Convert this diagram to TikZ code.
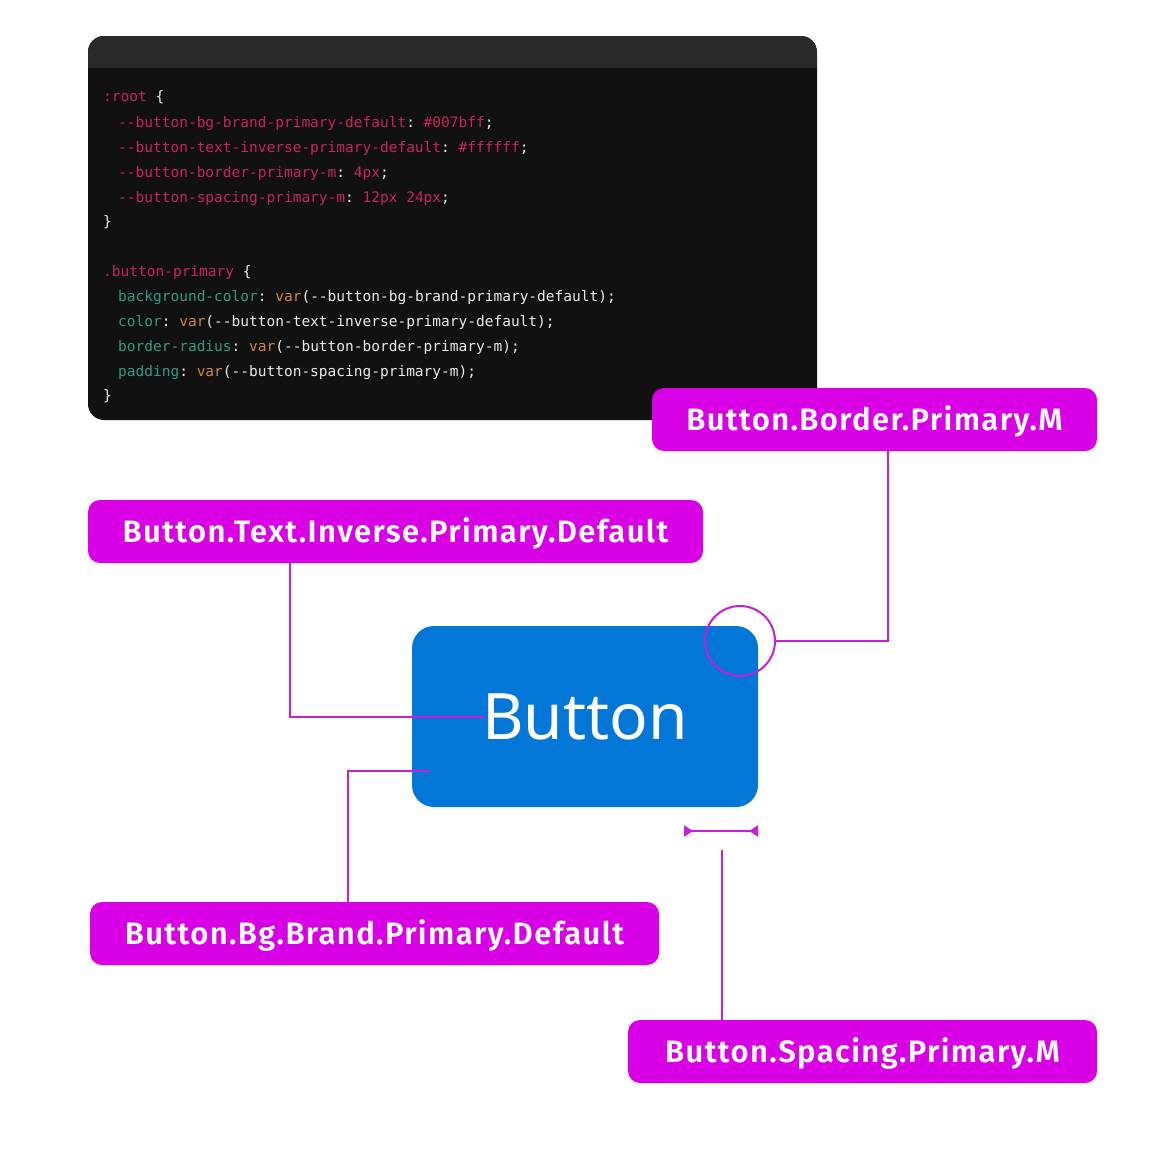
\documentclass[tikz,border=0pt]{standalone}
\usepackage{fontspec}
\setmonofont{DejaVu Sans Mono}
\newfontfamily\labfont{Fira Sans SemiBold}[LetterSpace=4.5]
\newfontfamily\btnfont{Noto Sans}
\usetikzlibrary{arrows.meta}
\definecolor{codebg}{HTML}{111111}
\definecolor{codehd}{HTML}{2A2A2A}
\definecolor{cpink}{HTML}{C9245F}
\definecolor{cgreen}{HTML}{2F9E80}
\definecolor{corange}{HTML}{D4883A}
\definecolor{cwhite}{HTML}{EAEAEA}
\definecolor{magfill}{HTML}{DA00E6}
\definecolor{magline}{HTML}{C81ED8}
\definecolor{btnblue}{HTML}{0277D7}
\newcommand{\pk}[1]{\textcolor{cpink}{#1}}
\newcommand{\gr}[1]{\textcolor{cgreen}{#1}}
\newcommand{\og}[1]{\textcolor{corange}{#1}}
\newcommand{\wh}[1]{\textcolor{cwhite}{#1}}
\tikzset{
  codeline/.style={anchor=base west, inner sep=0pt, font=\ttfamily\fontsize{14.5}{17}\selectfont, text=cwhite},
  tokenlab/.style={fill=magfill, rounded corners=12pt, inner sep=0pt, text=white,
    font=\labfont\fontsize{31}{36}\selectfont, text height=21.4pt, text depth=0pt},
  conn/.style={draw=magline, line width=2pt},
}
\begin{document}
\begin{tikzpicture}[x=1pt,y=-1pt]
\useasboundingbox (0,0) rectangle (1170,1170);
\fill[white] (0,0) rectangle (1170,1170);
% code block
\fill[codebg, rounded corners=16pt] (88,36) rectangle (817,420);
\begin{scope}
\clip[rounded corners=16pt] (88,36) rectangle (817,420);
\fill[codehd] (88,36) rectangle (817,68);
\end{scope}
\node[codeline] (c1) at (103,101) {\pk{:root} \{};
\node[codeline] (c2) at (118,127) {\pk{--button-bg-brand-primary-default}: \pk{\#007bff};};
\node[codeline] (c3) at (118,152) {\pk{--button-text-inverse-primary-default}: \pk{\#ffffff};};
\node[codeline] (c4) at (118,177) {\pk{--button-border-primary-m}: \pk{4px};};
\node[codeline] (c5) at (118,202) {\pk{--button-spacing-primary-m}: \pk{12px 24px};};
\node[codeline] (c6) at (103,226) {\}};
\node[codeline] (c8) at (103,276) {\pk{.button-primary} \{};
\node[codeline] (c9) at (118,301) {\gr{background-color}: \og{var}(--button-bg-brand-primary-default);};
\node[codeline] (c10) at (118,326) {\gr{color}: \og{var}(--button-text-inverse-primary-default);};
\node[codeline] (c11) at (118,351) {\gr{border-radius}: \og{var}(--button-border-primary-m);};
\node[codeline] (c12) at (118,376) {\gr{padding}: \og{var}(--button-spacing-primary-m);};
\node[codeline] (c13) at (103,400) {\}};
% button
\node[fill=btnblue, rounded corners=22pt, minimum width=346pt, minimum height=181pt, inner sep=0pt,
      text=white, font=\btnfont\fontsize{64}{70}\selectfont] (btn) at (585,716.5) {Button};
% labels
\node[tokenlab, minimum width=445pt, minimum height=63pt] (lborder) at (874.5,419.5) {Button.Border.Primary.M};
\node[tokenlab, minimum width=615pt, minimum height=63pt] (ltext) at (395.5,531.5) {Button.Text.Inverse.Primary.Default};
\node[tokenlab, minimum width=569pt, minimum height=63pt] (lbg) at (374.5,933.5) {Button.Bg.Brand.Primary.Default};
\node[tokenlab, minimum width=469pt, minimum height=63pt] (lspace) at (862.5,1051.5) {Button.Spacing.Primary.M};
% corner circle
\node[draw=magline, line width=2pt, circle, minimum size=70pt, inner sep=0pt] (corner) at (740,641) {};
% connector coordinates
\coordinate (tEnd) at (485,717);
\coordinate (bgEnd) at (430,771);
\coordinate (dimL) at (684,831);
\coordinate (dimR) at (758,831);
\coordinate (spTop) at (722,850);
% connectors
\draw[conn] (corner.east) -- (888,641) -- (lborder.south -| 888,0);
\draw[conn] (ltext.south -| 290,0) -- (290,717) -- (tEnd);
\draw[conn] (lbg.north -| 348,0) -- (348,771) -- (bgEnd);
\draw[conn, {Triangle[reversed,length=9pt,width=11pt]}-{Triangle[reversed,length=9pt,width=11pt]}] (dimL) -- (dimR);
\draw[conn] (spTop) -- (lspace.north -| spTop);
\end{tikzpicture}
\end{document}
